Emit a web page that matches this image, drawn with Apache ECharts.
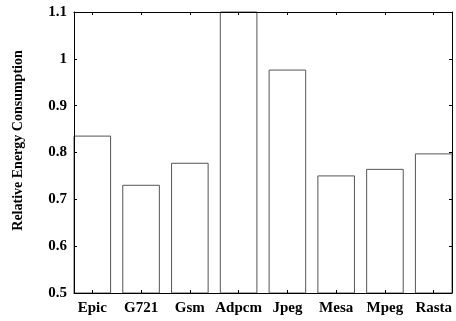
<!DOCTYPE html>
<html>
<head>
<meta charset="utf-8">
<script src="https://cdn.jsdelivr.net/npm/echarts@6/dist/echarts.min.js"></script>
<style>html,body{margin:0;padding:0;background:#fff}#c{width:456px;height:321px}</style>
</head>
<body>
<div id="c"></div>
<script>
const categories = ['Epic', 'G721', 'Gsm', 'Adpcm', 'Jpeg', 'Mesa', 'Mpeg', 'Rasta'];
const energy = [0.835, 0.73, 0.777, 1.1, 0.976, 0.75, 0.764, 0.797];
const yTicks = [0.5, 0.6, 0.7, 0.8, 0.9, 1.0, 1.1];
const yTitle = 'Relative Energy Consumption';

const idx = categories.map((c, i) => i);
const font = '"Liberation Serif", "Times New Roman", serif';
const chart = echarts.init(document.getElementById('c'), null, {renderer: 'canvas'});
const halfW = 0.375;
const xCommon = {
  type: 'value', min: -halfW, max: categories.length - 1 + halfW, z: 10,
  splitLine: {show: false},
  axisLine: {show: true, onZero: false, lineStyle: {color: '#000', width: 1}},
  axisTick: {show: true, inside: true, length: 3, customValues: idx, lineStyle: {color: '#000', width: 1}},
};
const yCommon = {
  type: 'value', min: yTicks[0], max: yTicks[yTicks.length - 1], interval: 0.1, z: 10,
  splitLine: {show: false},
  axisLine: {show: true, onZero: false, lineStyle: {color: '#000', width: 1}},
  axisTick: {show: true, inside: true, length: 3, lineStyle: {color: '#000', width: 1}},
};
chart.setOption({
  animation: false,
  backgroundColor: '#fff',
  grid: {left: 74, right: 4, top: 12, bottom: 28},
  xAxis: [
    Object.assign({}, xCommon, {
      position: 'bottom',
      axisLabel: {show: true, customValues: idx, margin: 8,
        formatter: v => categories[Math.round(v)],
        fontFamily: font, fontWeight: 'bold', fontSize: 15, color: '#000'}
    }),
    Object.assign({}, xCommon, {position: 'top', axisLabel: {show: false}})
  ],
  yAxis: [
    Object.assign({}, yCommon, {
      position: 'left',
      name: yTitle, nameLocation: 'middle', nameGap: 49, nameRotate: 90,
      nameTextStyle: {fontFamily: font, fontWeight: 'bold', fontSize: 14, color: '#000', padding: [0, 0, 0, 24]},
      axisLabel: {show: true, margin: 7, fontFamily: font, fontWeight: 'bold', fontSize: 15, color: '#000',
        formatter: v => String(+v.toFixed(1))}
    }),
    Object.assign({}, yCommon, {position: 'right', axisLabel: {show: false}})
  ],
  series: [{
    type: 'custom',
    xAxisIndex: 0, yAxisIndex: 0,
    data: energy.map((v, i) => [i, v]),
    renderItem: function (params, api) {
      const i = api.value(0), v = api.value(1);
      const p1 = api.coord([i - halfW, v]);
      const p2 = api.coord([i + halfW, yTicks[0]]);
      return {
        type: 'rect',
        shape: {x: p1[0], y: p1[1], width: p2[0] - p1[0], height: p2[1] - p1[1]},
        style: {fill: 'none', stroke: '#555', lineWidth: 1}
      };
    },
    z: 1
  }]
});
</script>
</body>
</html>
